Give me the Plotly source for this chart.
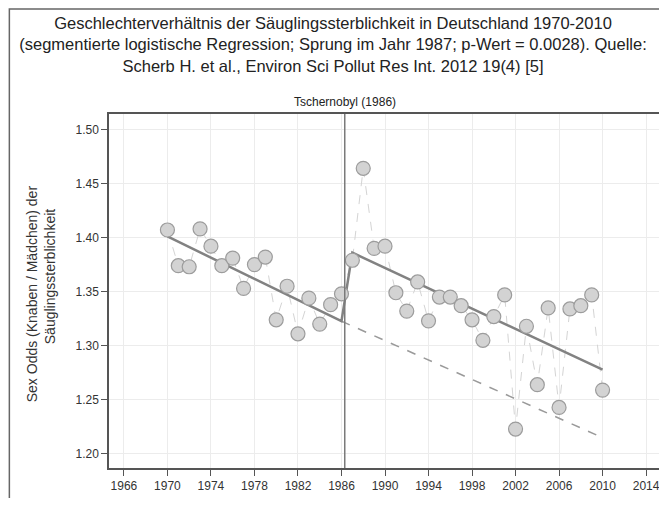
import plotly.graph_objects as go

years = list(range(1970, 2011))
sex_odds = [1.407, 1.374, 1.373, 1.408, 1.392, 1.374, 1.381, 1.353, 1.375, 1.382,
            1.324, 1.355, 1.311, 1.344, 1.320, 1.338, 1.348, 1.379, 1.464, 1.390,
            1.392, 1.349, 1.332, 1.359, 1.323, 1.345, 1.345, 1.337, 1.324, 1.305,
            1.327, 1.347, 1.223, 1.318, 1.264, 1.335, 1.243, 1.334, 1.337, 1.347,
            1.259]

fit_years = [1970, 1986, 1987, 2010]
fit_vals = [1.401, 1.3227, 1.386, 1.278]

cf_years = [1986, 2010]
cf_vals = [1.3227, 1.215]

event_year = 1986.3
event_label = "Tschernobyl (1986)"

y_ticks = [1.20, 1.25, 1.30, 1.35, 1.40, 1.45, 1.50]
x_ticks = list(range(1966, 2015, 4))

title_text = ("Geschlechterverhältnis der Säuglingssterblichkeit in Deutschland 1970-2010<br>"
              "(segmentierte logistische Regression; Sprung im Jahr 1987; p-Wert = 0.0028). Quelle:<br>"
              "Scherb H. et al., Environ Sci Pollut Res Int. 2012 19(4) [5]")
y_title_1 = "Sex Odds (Knaben / Mädchen) der"
y_title_2 = "Säuglingssterblichkeit"

FONT = "Liberation Sans, Arial, sans-serif"

# figure sits at an 8px page offset (default body margin); keep page from overflowing
W, H = 659, 490
L, R, T, B = 101, 4, 106, 30
PW, PH = W - L - R, H - T - B

fig = go.Figure()

fig.add_trace(go.Scatter(x=cf_years, y=cf_vals, mode="lines",
                         line=dict(color="#9a9a9a", width=1.5, dash="dash"),
                         hoverinfo="skip", showlegend=False))
fig.add_trace(go.Scatter(x=years, y=sex_odds, mode="lines",
                         line=dict(color="#d4d4d4", width=1, dash="dash"),
                         hoverinfo="skip", showlegend=False))
fig.add_trace(go.Scatter(x=fit_years, y=fit_vals, mode="lines",
                         line=dict(color="#828282", width=2.5),
                         showlegend=False))
fig.add_trace(go.Scatter(x=years, y=sex_odds, mode="markers",
                         marker=dict(size=14, color="#d3d3d3",
                                     line=dict(color="#9c9c9c", width=1.2)),
                         showlegend=False))

fig.add_shape(type="line", xref="x", yref="paper", x0=event_year, x1=event_year,
              y0=0, y1=1, line=dict(color="#7a7a7a", width=1.5), layer="above")
fig.add_annotation(x=event_year, y=1, xref="x", yref="paper", yanchor="bottom",
                   yshift=3, text=event_label, showarrow=False,
                   font=dict(family=FONT, size=12, color="#222"))

# outer frame (top + left edges visible)
fig.add_shape(type="rect", xref="paper", yref="paper",
              x0=(1 - L) / PW, x1=1.2, y0=-0.3, y1=(H - B - 1) / PH,
              line=dict(color="#666", width=1.5), fillcolor="rgba(0,0,0,0)")

# y axis title as two rotated annotations (page coords -> paper)
fig.add_annotation(x=(24 - L) / PW, y=(H - B - (294 - 8)) / PH, xref="paper", yref="paper",
                   text=y_title_1, textangle=-90, showarrow=False,
                   xanchor="center", yanchor="middle",
                   font=dict(family=FONT, size=14, color="#333"))
fig.add_annotation(x=(42 - L) / PW, y=(H - B - (276 - 8)) / PH, xref="paper", yref="paper",
                   text=y_title_2, textangle=-90, showarrow=False,
                   xanchor="center", yanchor="middle",
                   font=dict(family=FONT, size=14, color="#333"))

fig.update_layout(
    width=W, height=H,
    margin=dict(l=L, r=R, t=T, b=B),
    paper_bgcolor="white", plot_bgcolor="white",
    font=dict(family=FONT, color="#333"),
    title=dict(text=title_text, x=325 / W, xref="container", xanchor="center",
               y=1 - 21 / H, yref="container", yanchor="middle",
               font=dict(family=FONT, size=16.5, color="#222")),
    showlegend=False,
)

fig.update_xaxes(range=[1964.63, 2015.37], tickvals=x_ticks,
                 ticktext=[str(t) for t in x_ticks],
                 showgrid=True, gridcolor="#ececec", gridwidth=1,
                 showline=True, linecolor="#555", linewidth=1.5, mirror=True,
                 ticks="outside", ticklen=6, tickcolor="#555", tickwidth=1.2,
                 tickfont=dict(family=FONT, size=12, color="#333"),
                 zeroline=False)
fig.update_yaxes(range=[1.187, 1.5142], tickvals=y_ticks,
                 ticktext=[f"{v:.2f}" for v in y_ticks],
                 showgrid=True, gridcolor="#ececec", gridwidth=1,
                 showline=True, linecolor="#555", linewidth=1.5, mirror=True,
                 ticks="outside", ticklen=6, tickcolor="#555", tickwidth=1.2,
                 tickfont=dict(family=FONT, size=12, color="#333"),
                 zeroline=False)

fig.write_html("out.html")
